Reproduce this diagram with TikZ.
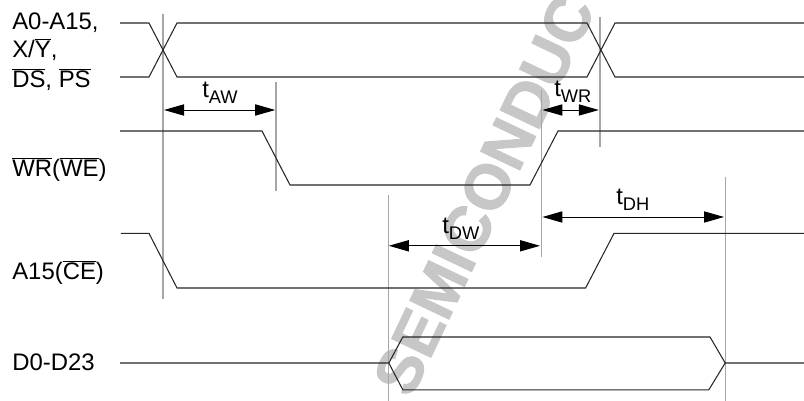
\documentclass[tikz,border=0pt]{standalone}
\usepackage{fontspec}
\setmainfont{Liberation Sans}
\usetikzlibrary{arrows.meta}
\newcommand{\ovl}[1]{$\overline{\mbox{#1}}$}
\newcommand{\tsub}[1]{t\raisebox{-4pt}{\fontsize{13}{13}\selectfont #1}}
\tikzset{
  signal/.style={line width=0.75pt,color=black!85},
  guide/.style={line width=0.8pt,color=black!35},
  span/.style={line width=0.7pt,{Triangle[length=0.5cm,width=0.28cm]}-{Triangle[length=0.5cm,width=0.28cm]}},
  sig/.style={anchor=base west,inner sep=0pt,font=\fontsize{17}{17}\selectfont},
  timing/.style={anchor=base west,inner sep=0pt,font=\fontsize{17}{17}\selectfont}
}
\begin{document}
\begin{tikzpicture}
      \useasboundingbox (0,0) rectangle (20.1,10.025);

      % watermark
      \node (wm) [rotate=64.6,anchor=west,inner sep=0pt,text=black!22,font=\fontsize{45}{45}\selectfont\bfseries\addfontfeature{FakeBold=1.5}] at (9.78,0.27) {SEMICONDUC};

      % guides
      \draw[guide] (4.075,9.675) -- (4.075,2.55);
      \draw[guide] (6.9,7.975) -- (6.9,5.25);
      \draw[guide] (15,9.6) -- (15,6.35);
      \draw[guide] (13.53,7.775) -- (13.53,3.6);
      \draw[guide] (9.72,5.15) -- (9.72,0);
      \draw[guide] (18.13,5.6) -- (18.13,0);

      % address bus
      \draw[signal] (3,9.45) -- (3.725,9.45) -- (4.425,8.1) -- (14.675,8.1) -- (15.375,9.45) -- (20.1,9.45);
      \draw[signal] (3,8.1) -- (3.725,8.1) -- (4.425,9.45) -- (14.675,9.45) -- (15.375,8.1) -- (20.1,8.1);
      % write
      \draw[signal] (3,6.75) -- (6.55,6.75) -- (7.25,5.4) -- (13.25,5.4) -- (13.95,6.75) -- (20.1,6.75);
      % chip enable
      \draw[signal] (3.02,4.19) -- (3.725,4.19) -- (4.425,2.825) -- (14.64,2.825) -- (15.35,4.19) -- (20.1,4.19);
      % data
      \draw[signal] (3,0.95) -- (9.72,0.95) -- (10.07,1.6) -- (17.75,1.6) -- (18.13,0.95) -- (20.1,0.95);
      \draw[signal] (9.72,0.95) -- (10.07,0.28) -- (17.72,0.28) -- (18.13,0.95);

      % spans
      \draw[span] (4.1,7.275) -- (6.88,7.275);
      \draw[span] (13.56,7.275) -- (14.97,7.275);
      \draw[span] (13.56,4.6) -- (18.1,4.6);
      \draw[span] (9.72,3.88) -- (13.5,3.88);

      \node (tAW) [timing] at (5.05,7.575) {\tsub{AW}};
      \node (tWR) [timing] at (13.85,7.6) {\tsub{WR}};
      \node (tDH) [timing] at (15.4,4.9) {\tsub{DH}};
      \node (tDW) [timing] at (11.05,4.175) {\tsub{DW}};

      \node (addr) [sig] at (0.3,9.275) {A0-A15,};
      \node (xy) [sig] at (0.3,8.575) {X/\ovl{Y},};
      \node (ds) [sig] at (0.3,7.825) {\ovl{DS}, \ovl{PS}};
      \node (wr) [sig] at (0.3,5.6) {\ovl{WR}(\ovl{WE})};
      \node (ce) [sig] at (0.3,3.025) {A15(\ovl{CE})};
      \node (data) [sig] at (0.3,0.75) {D0-D23};
\end{tikzpicture}
\end{document}
